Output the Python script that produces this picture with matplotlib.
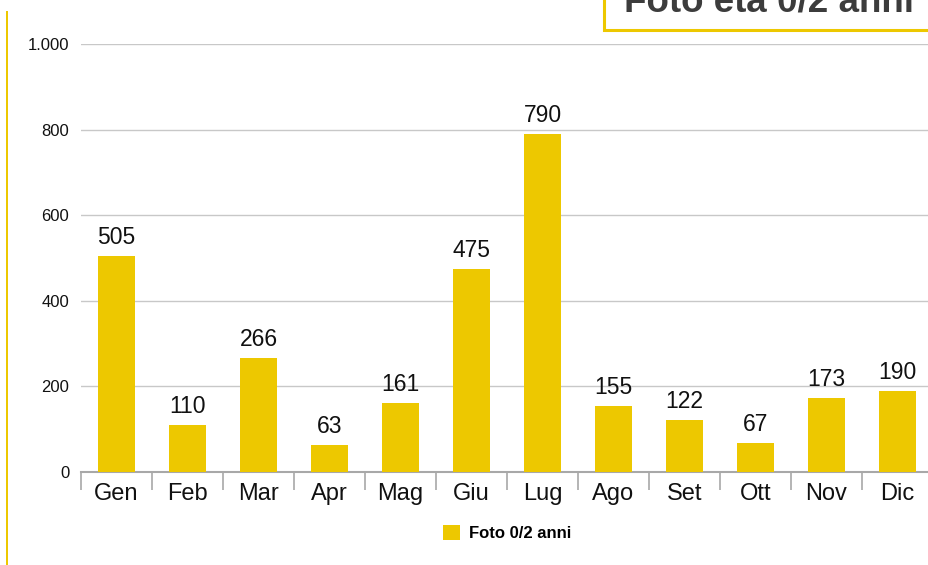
import numpy as np
import matplotlib.pyplot as plt
from matplotlib.patches import Rectangle

# Dati
mesi = ['Gen', 'Feb', 'Mar', 'Apr', 'Mag', 'Giu', 'Lug', 'Ago', 'Set', 'Ott', 'Nov', 'Dic']
foto = [505, 110, 266, 63, 161, 475, 790, 155, 122, 67, 173, 190]
yticks = [0, 200, 400, 600, 800, 1000]
ytick_labels = ['0', '200', '400', '600', '800', '1.000']

giallo = '#EDC800'
plt.rcParams['font.family'] = ['Liberation Sans', 'DejaVu Sans']

W, H = 929, 565
fig = plt.figure(figsize=(W / 100, H / 100), dpi=100)
ax = fig.add_axes([81 / W, (H - 472) / H, (933 - 81) / W, (472 - 44) / H])

x = np.arange(len(mesi))
bars = ax.bar(x, foto, width=0.51, color=giallo, zorder=3, label='Foto 0/2 anni')
for xi, v in zip(x, foto):
    ax.text(xi, v + 16, str(v), ha='center', va='bottom', fontsize=16.5, color='#111111')

ax.set_xlim(-0.5, 11.5)
ax.set_ylim(0, 1000)
ax.set_yticks(yticks)
ax.set_yticklabels(ytick_labels)
ax.set_xticks(x)
ax.set_xticklabels(mesi)
ax.set_xticks(np.arange(-0.5, 12, 1), minor=True)
ax.tick_params(axis='x', which='major', length=0, labelsize=17, pad=8, labelcolor='#111111')
ax.tick_params(axis='x', which='minor', length=13, color='#a8a8a8', width=1.2)
ax.tick_params(axis='y', length=0, labelsize=12, pad=8.5, labelcolor='#111111')
ax.grid(axis='y', color='#c8c8c8', linewidth=1, zorder=0)
for s in ['top', 'right', 'left']:
    ax.spines[s].set_visible(False)
ax.spines['bottom'].set_color('#a8a8a8')
ax.spines['bottom'].set_linewidth(1.5)

# Legenda
fig.legend(handles=[bars], loc='center', bbox_to_anchor=(507 / W, 1 - 533 / H),
           frameon=False, prop={'weight': 'bold', 'size': 12},
           handlelength=1.0, handleheight=1.0, handletextpad=0.55)

# Linea gialla a sinistra
fig.add_artist(Rectangle((6 / W, 0), 2 / W, (H - 11) / H, transform=fig.transFigure,
                         color=giallo, lw=0))

# Riquadro titolo
fig.add_artist(Rectangle((604 / W, 1 - 30 / H), 340 / W, 40 / H, transform=fig.transFigure,
                         facecolor='white', edgecolor=giallo, lw=2.2, zorder=5))
fig.text(769 / W, 1 - 12 / H, 'Foto età 0/2 anni', ha='center', va='baseline',
         fontsize=26.5, fontweight='bold', color='#3c3c3c', zorder=6)

fig.savefig('out.png', dpi=100)
